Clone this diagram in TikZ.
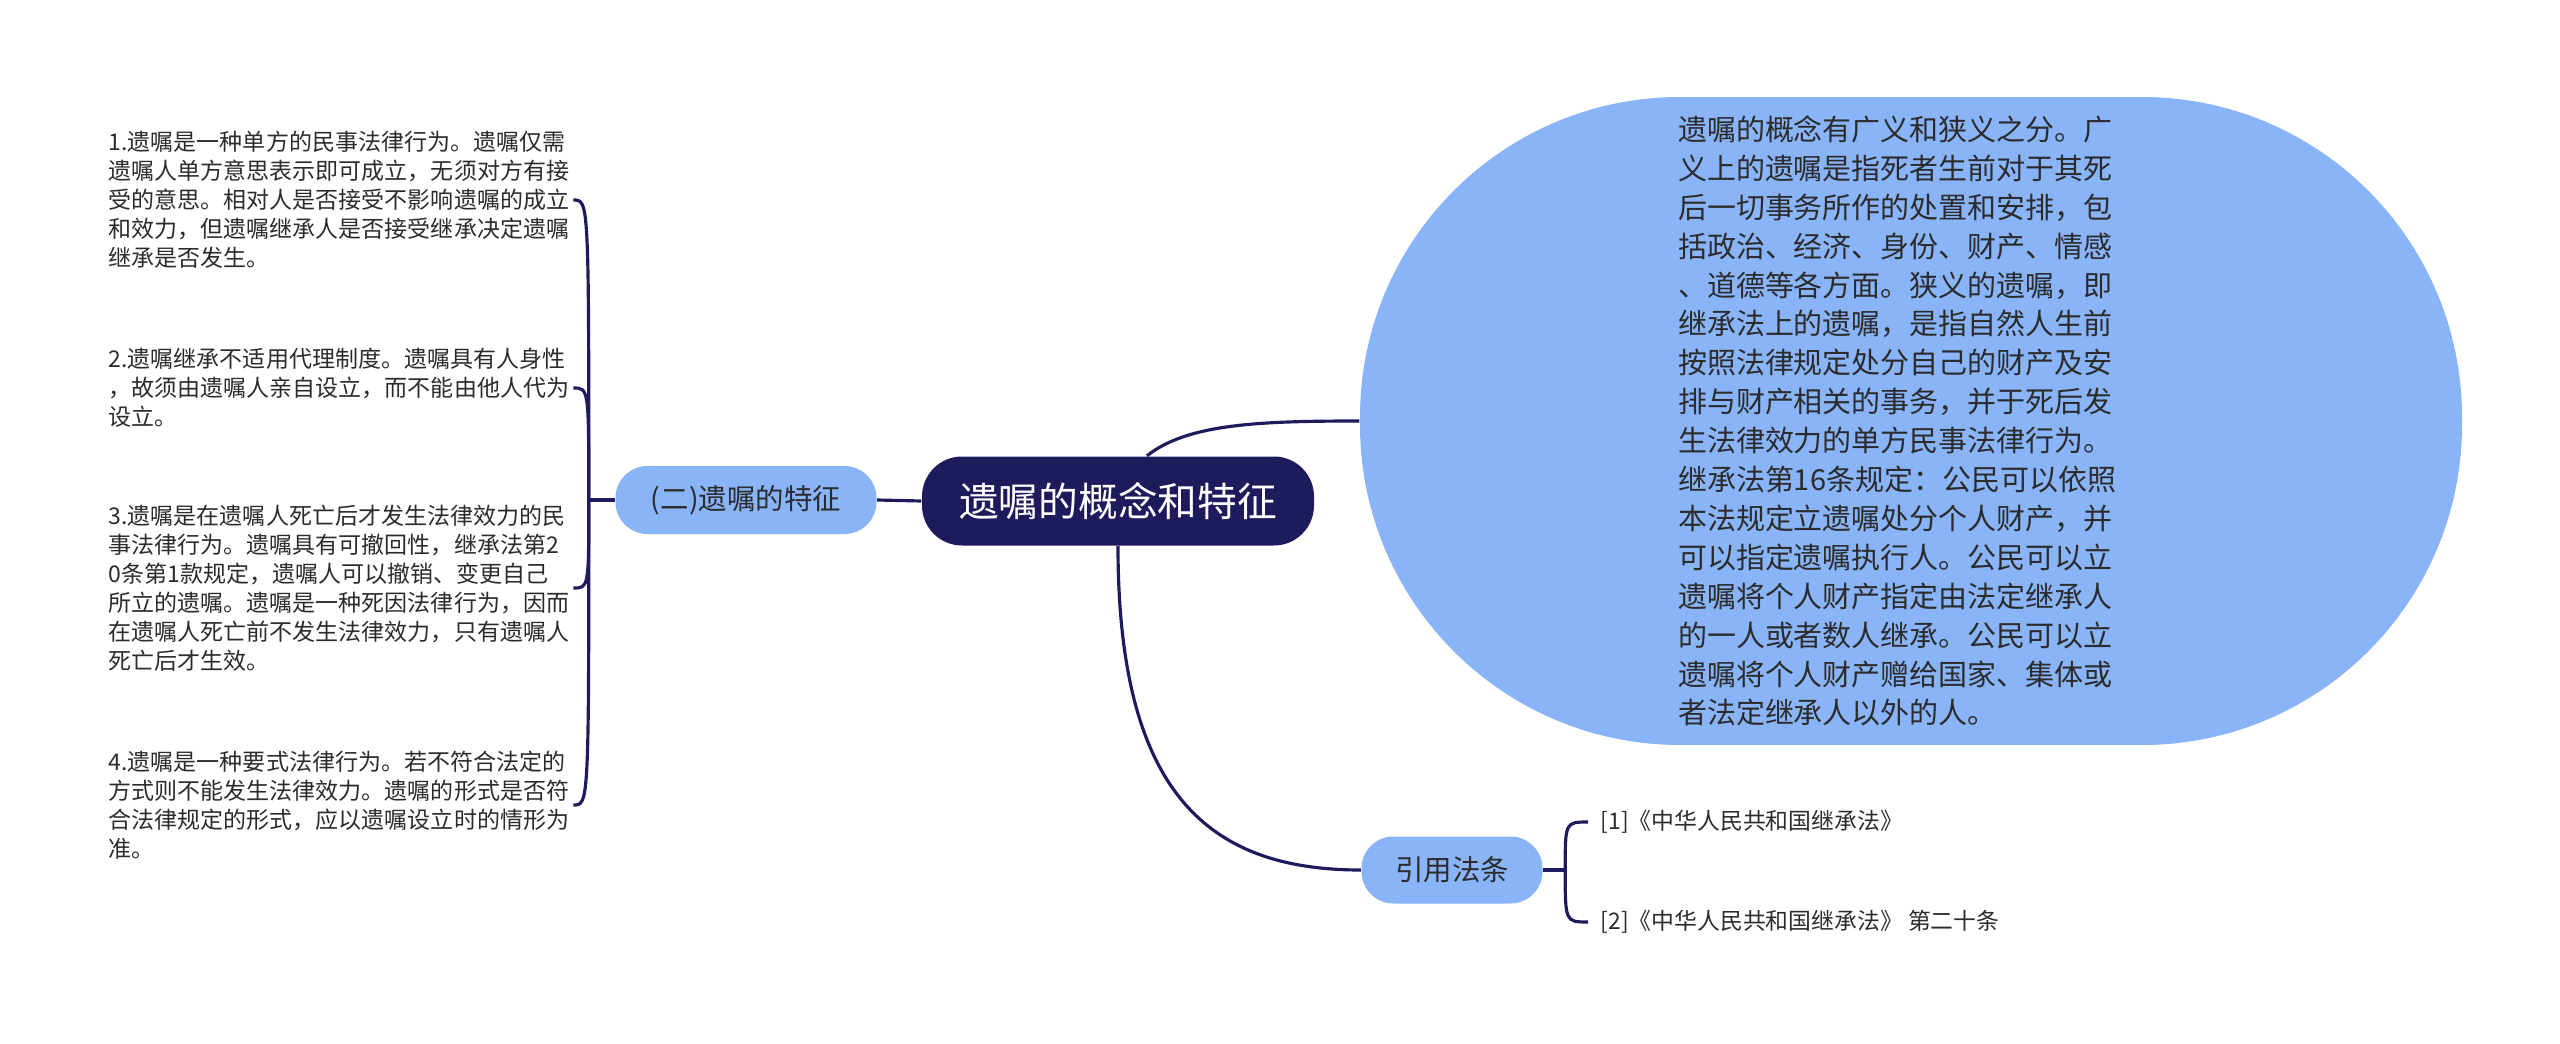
\documentclass[tikz,border=0pt]{standalone}
\usepackage{fontspec}
\usepackage{tikz}

\newfontfamily\cjk{Noto Sans CJK SC}
\definecolor{navy}{HTML}{1E1B5C}
\definecolor{sky}{HTML}{8AB4F8}
\definecolor{ink}{HTML}{2B2B2B}

\begin{document}
\begin{tikzpicture}[x=0.1mm, y=-0.1mm,
  link/.style={navy, line width=0.9pt},
  rootbox/.style={fill=navy, text=white, rounded corners=4mm, minimum width=39.2mm, minimum height=8.9mm, font=\cjk\fontsize{11.3pt}{14pt}\selectfont},
  topic/.style={fill=sky, text=ink, rounded corners=3.2mm, font=\cjk\fontsize{8.1pt}{10pt}\selectfont},
  defbox/.style={fill=sky, text=ink, rounded corners=32mm, minimum width=110.2mm, minimum height=64.8mm, text width=46.6mm, align=left, font=\cjk\fontsize{8.25pt}{11.07pt}\selectfont},
  leaf/.style={anchor=west, text=ink, text width=45.2mm, inner xsep=1.2mm, inner ysep=0pt, align=left, font=\cjk\fontsize{6.55pt}{8.25pt}\selectfont},
  refline/.style={anchor=west, text=ink, inner xsep=1.2mm, font=\cjk\fontsize{6.5pt}{8pt}\selectfont}]

\useasboundingbox (0,0) rectangle (2560,1044);

% main topics
\node[rootbox] (root) at (1118,501) {遗嘱的概念和特征};
\node[topic, minimum width=26.1mm, minimum height=6.8mm] (feat) at (746,500) {(二)遗嘱的特征};
\node[topic, minimum width=18.1mm, minimum height=6.7mm] (cite) at (1452,870) {引用法条};

\node[defbox] (def) at (1911,421) {遗嘱的概念有广义和狭义之分。广\\义上的遗嘱是指死者生前对于其死\\后一切事务所作的处置和安排，包\\括政治、经济、身份、财产、情感\\、道德等各方面。狭义的遗嘱，即\\继承法上的遗嘱，是指自然人生前\\按照法律规定处分自己的财产及安\\排与财产相关的事务，并于死后发\\生法律效力的单方民事法律行为。\\继承法第16条规定：公民可以依照\\本法规定立遗嘱处分个人财产，并\\可以指定遗嘱执行人。公民可以立\\遗嘱将个人财产指定由法定继承人\\的一人或者数人继承。公民可以立\\遗嘱将个人财产赠给国家、集体或\\者法定继承人以外的人。};

% features
\node[leaf] (p1) at (96,200) {1.遗嘱是一种单方的民事法律行为。遗嘱仅需\\遗嘱人单方意思表示即可成立，无须对方有接\\受的意思。相对人是否接受不影响遗嘱的成立\\和效力，但遗嘱继承人是否接受继承决定遗嘱\\继承是否发生。};
\node[leaf] (p2) at (96,388) {2.遗嘱继承不适用代理制度。遗嘱具有人身性\\，故须由遗嘱人亲自设立，而不能由他人代为\\设立。};
\node[leaf] (p3) at (96,588) {3.遗嘱是在遗嘱人死亡后才发生法律效力的民\\事法律行为。遗嘱具有可撤回性，继承法第2\\0条第1款规定，遗嘱人可以撤销、变更自己\\所立的遗嘱。遗嘱是一种死因法律行为，因而\\在遗嘱人死亡前不发生法律效力，只有遗嘱人\\死亡后才生效。};
\node[leaf] (p4) at (96,805) {4.遗嘱是一种要式法律行为。若不符合法定的\\方式则不能发生法律效力。遗嘱的形式是否符\\合法律规定的形式，应以遗嘱设立时的情形为\\准。};

% references
\node[refline] (r1) at (1588,822) {[1]《中华人民共和国继承法》};
\node[refline] (r2) at (1588,922) {[2]《中华人民共和国继承法》 第二十条};

% connectors
\draw[link] (root.west) -- (feat.east);
\draw[link] ([xshift=2.9mm]root.north) .. controls +(40,-32) and +(-100,0) .. (def.west);
\draw[link] (root.south) .. controls +(0,250) and +(-150,0) .. (cite.west);

\draw[link] (feat.west) -- ++(-26,0) coordinate (fk);
\foreach \n in {p1,p2,p3,p4}
\draw[link] (fk) .. controls (fk |- \n.east) .. (\n.east);

\draw[link] (cite.east) -- ++(22,0) coordinate (ck);
\foreach \n in {r1,r2}
\draw[link] (ck) .. controls (ck |- \n.west) .. (\n.west);

\end{tikzpicture}
\end{document}
